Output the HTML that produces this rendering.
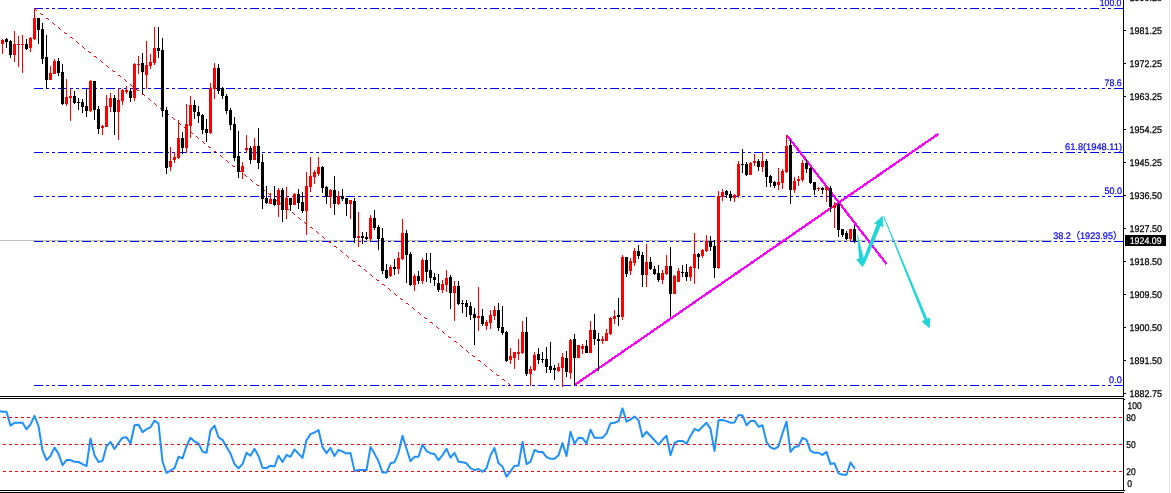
<!DOCTYPE html>
<html><head><meta charset="utf-8"><title>Chart</title>
<style>html,body{margin:0;padding:0;background:#fff;}body{width:1171px;height:493px;overflow:hidden;}svg{display:block;}text{font-family:"Liberation Sans",sans-serif;text-rendering:geometricPrecision;}</style>
</head><body>
<svg width="1171" height="493" viewBox="0 0 1171 493">
<rect x="0" y="0" width="1171" height="493" fill="#fff"/>
<rect x="1169" y="0" width="1" height="493" fill="#e6e6e6"/>
<rect x="0" y="240" width="1052" height="1" fill="#c0c0c0" shape-rendering="crispEdges"/>
<g stroke="#0000ff" stroke-width="1" stroke-dasharray="9 3 3 3 3 3" shape-rendering="crispEdges" fill="none">
<line x1="34" y1="8.5" x2="1123" y2="8.5"/>
<line x1="34" y1="88.5" x2="1123" y2="88.5"/>
<line x1="34" y1="152.5" x2="1123" y2="152.5"/>
<line x1="34" y1="196.5" x2="1123" y2="196.5"/>
<line x1="34" y1="241.5" x2="1123" y2="241.5"/>
<line x1="34" y1="385.5" x2="1123" y2="385.5"/>
</g>
<g fill="#ff0000" shape-rendering="crispEdges"><rect x="34" y="8" width="1" height="1"/><rect x="35" y="9" width="1" height="1"/><rect x="36" y="10" width="1" height="1"/><rect x="40" y="13" width="1" height="1"/><rect x="41" y="14" width="1" height="1"/><rect x="42" y="14" width="1" height="1"/><rect x="46" y="18" width="1" height="1"/><rect x="47" y="18" width="1" height="1"/><rect x="48" y="19" width="1" height="1"/><rect x="52" y="22" width="1" height="1"/><rect x="53" y="23" width="1" height="1"/><rect x="54" y="24" width="1" height="1"/><rect x="58" y="27" width="1" height="1"/><rect x="59" y="28" width="1" height="1"/><rect x="60" y="29" width="1" height="1"/><rect x="64" y="32" width="1" height="1"/><rect x="65" y="33" width="1" height="1"/><rect x="66" y="33" width="1" height="1"/><rect x="70" y="37" width="1" height="1"/><rect x="71" y="37" width="1" height="1"/><rect x="72" y="38" width="1" height="1"/><rect x="76" y="41" width="1" height="1"/><rect x="77" y="42" width="1" height="1"/><rect x="78" y="43" width="1" height="1"/><rect x="82" y="46" width="1" height="1"/><rect x="83" y="47" width="1" height="1"/><rect x="84" y="48" width="1" height="1"/><rect x="88" y="51" width="1" height="1"/><rect x="89" y="52" width="1" height="1"/><rect x="90" y="52" width="1" height="1"/><rect x="94" y="56" width="1" height="1"/><rect x="95" y="56" width="1" height="1"/><rect x="96" y="57" width="1" height="1"/><rect x="100" y="60" width="1" height="1"/><rect x="101" y="61" width="1" height="1"/><rect x="102" y="62" width="1" height="1"/><rect x="106" y="65" width="1" height="1"/><rect x="107" y="66" width="1" height="1"/><rect x="108" y="67" width="1" height="1"/><rect x="112" y="70" width="1" height="1"/><rect x="113" y="71" width="1" height="1"/><rect x="114" y="71" width="1" height="1"/><rect x="118" y="75" width="1" height="1"/><rect x="119" y="75" width="1" height="1"/><rect x="120" y="76" width="1" height="1"/><rect x="124" y="79" width="1" height="1"/><rect x="125" y="80" width="1" height="1"/><rect x="126" y="81" width="1" height="1"/><rect x="130" y="84" width="1" height="1"/><rect x="131" y="85" width="1" height="1"/><rect x="132" y="86" width="1" height="1"/><rect x="136" y="89" width="1" height="1"/><rect x="137" y="90" width="1" height="1"/><rect x="138" y="90" width="1" height="1"/><rect x="142" y="94" width="1" height="1"/><rect x="143" y="94" width="1" height="1"/><rect x="144" y="95" width="1" height="1"/><rect x="148" y="98" width="1" height="1"/><rect x="149" y="99" width="1" height="1"/><rect x="150" y="100" width="1" height="1"/><rect x="154" y="103" width="1" height="1"/><rect x="155" y="104" width="1" height="1"/><rect x="156" y="105" width="1" height="1"/><rect x="160" y="108" width="1" height="1"/><rect x="161" y="109" width="1" height="1"/><rect x="162" y="109" width="1" height="1"/><rect x="166" y="113" width="1" height="1"/><rect x="167" y="113" width="1" height="1"/><rect x="168" y="114" width="1" height="1"/><rect x="172" y="117" width="1" height="1"/><rect x="173" y="118" width="1" height="1"/><rect x="174" y="119" width="1" height="1"/><rect x="178" y="122" width="1" height="1"/><rect x="179" y="123" width="1" height="1"/><rect x="180" y="124" width="1" height="1"/><rect x="184" y="127" width="1" height="1"/><rect x="185" y="128" width="1" height="1"/><rect x="186" y="128" width="1" height="1"/><rect x="190" y="132" width="1" height="1"/><rect x="191" y="132" width="1" height="1"/><rect x="192" y="133" width="1" height="1"/><rect x="196" y="136" width="1" height="1"/><rect x="197" y="137" width="1" height="1"/><rect x="198" y="138" width="1" height="1"/><rect x="202" y="141" width="1" height="1"/><rect x="203" y="142" width="1" height="1"/><rect x="204" y="143" width="1" height="1"/><rect x="208" y="146" width="1" height="1"/><rect x="209" y="147" width="1" height="1"/><rect x="210" y="147" width="1" height="1"/><rect x="214" y="151" width="1" height="1"/><rect x="215" y="151" width="1" height="1"/><rect x="216" y="152" width="1" height="1"/><rect x="220" y="155" width="1" height="1"/><rect x="221" y="156" width="1" height="1"/><rect x="222" y="157" width="1" height="1"/><rect x="226" y="160" width="1" height="1"/><rect x="227" y="161" width="1" height="1"/><rect x="228" y="162" width="1" height="1"/><rect x="232" y="165" width="1" height="1"/><rect x="233" y="166" width="1" height="1"/><rect x="234" y="166" width="1" height="1"/><rect x="238" y="170" width="1" height="1"/><rect x="239" y="170" width="1" height="1"/><rect x="240" y="171" width="1" height="1"/><rect x="244" y="174" width="1" height="1"/><rect x="245" y="175" width="1" height="1"/><rect x="246" y="176" width="1" height="1"/><rect x="250" y="179" width="1" height="1"/><rect x="251" y="180" width="1" height="1"/><rect x="252" y="181" width="1" height="1"/><rect x="256" y="184" width="1" height="1"/><rect x="257" y="185" width="1" height="1"/><rect x="258" y="185" width="1" height="1"/><rect x="262" y="189" width="1" height="1"/><rect x="263" y="189" width="1" height="1"/><rect x="264" y="190" width="1" height="1"/><rect x="268" y="193" width="1" height="1"/><rect x="269" y="194" width="1" height="1"/><rect x="270" y="195" width="1" height="1"/><rect x="274" y="198" width="1" height="1"/><rect x="275" y="199" width="1" height="1"/><rect x="276" y="200" width="1" height="1"/><rect x="280" y="203" width="1" height="1"/><rect x="281" y="204" width="1" height="1"/><rect x="282" y="204" width="1" height="1"/><rect x="286" y="208" width="1" height="1"/><rect x="287" y="208" width="1" height="1"/><rect x="288" y="209" width="1" height="1"/><rect x="292" y="212" width="1" height="1"/><rect x="293" y="213" width="1" height="1"/><rect x="294" y="214" width="1" height="1"/><rect x="298" y="217" width="1" height="1"/><rect x="299" y="218" width="1" height="1"/><rect x="300" y="219" width="1" height="1"/><rect x="304" y="222" width="1" height="1"/><rect x="305" y="223" width="1" height="1"/><rect x="306" y="223" width="1" height="1"/><rect x="310" y="227" width="1" height="1"/><rect x="311" y="227" width="1" height="1"/><rect x="312" y="228" width="1" height="1"/><rect x="316" y="231" width="1" height="1"/><rect x="317" y="232" width="1" height="1"/><rect x="318" y="233" width="1" height="1"/><rect x="322" y="236" width="1" height="1"/><rect x="323" y="237" width="1" height="1"/><rect x="324" y="238" width="1" height="1"/><rect x="328" y="241" width="1" height="1"/><rect x="329" y="242" width="1" height="1"/><rect x="330" y="242" width="1" height="1"/><rect x="334" y="246" width="1" height="1"/><rect x="335" y="246" width="1" height="1"/><rect x="336" y="247" width="1" height="1"/><rect x="340" y="250" width="1" height="1"/><rect x="341" y="251" width="1" height="1"/><rect x="342" y="252" width="1" height="1"/><rect x="346" y="255" width="1" height="1"/><rect x="347" y="256" width="1" height="1"/><rect x="348" y="257" width="1" height="1"/><rect x="352" y="260" width="1" height="1"/><rect x="353" y="261" width="1" height="1"/><rect x="354" y="261" width="1" height="1"/><rect x="358" y="265" width="1" height="1"/><rect x="359" y="265" width="1" height="1"/><rect x="360" y="266" width="1" height="1"/><rect x="364" y="269" width="1" height="1"/><rect x="365" y="270" width="1" height="1"/><rect x="366" y="271" width="1" height="1"/><rect x="370" y="274" width="1" height="1"/><rect x="371" y="275" width="1" height="1"/><rect x="372" y="276" width="1" height="1"/><rect x="376" y="279" width="1" height="1"/><rect x="377" y="280" width="1" height="1"/><rect x="378" y="280" width="1" height="1"/><rect x="382" y="284" width="1" height="1"/><rect x="383" y="284" width="1" height="1"/><rect x="384" y="285" width="1" height="1"/><rect x="388" y="288" width="1" height="1"/><rect x="389" y="289" width="1" height="1"/><rect x="390" y="290" width="1" height="1"/><rect x="394" y="293" width="1" height="1"/><rect x="395" y="294" width="1" height="1"/><rect x="396" y="295" width="1" height="1"/><rect x="400" y="298" width="1" height="1"/><rect x="401" y="299" width="1" height="1"/><rect x="402" y="299" width="1" height="1"/><rect x="406" y="303" width="1" height="1"/><rect x="407" y="303" width="1" height="1"/><rect x="408" y="304" width="1" height="1"/><rect x="412" y="307" width="1" height="1"/><rect x="413" y="308" width="1" height="1"/><rect x="414" y="309" width="1" height="1"/><rect x="418" y="312" width="1" height="1"/><rect x="419" y="313" width="1" height="1"/><rect x="420" y="314" width="1" height="1"/><rect x="424" y="317" width="1" height="1"/><rect x="425" y="318" width="1" height="1"/><rect x="426" y="318" width="1" height="1"/><rect x="430" y="322" width="1" height="1"/><rect x="431" y="322" width="1" height="1"/><rect x="432" y="323" width="1" height="1"/><rect x="436" y="326" width="1" height="1"/><rect x="437" y="327" width="1" height="1"/><rect x="438" y="328" width="1" height="1"/><rect x="442" y="331" width="1" height="1"/><rect x="443" y="332" width="1" height="1"/><rect x="444" y="333" width="1" height="1"/><rect x="448" y="336" width="1" height="1"/><rect x="449" y="337" width="1" height="1"/><rect x="450" y="337" width="1" height="1"/><rect x="454" y="341" width="1" height="1"/><rect x="455" y="341" width="1" height="1"/><rect x="456" y="342" width="1" height="1"/><rect x="460" y="345" width="1" height="1"/><rect x="461" y="346" width="1" height="1"/><rect x="462" y="347" width="1" height="1"/><rect x="466" y="350" width="1" height="1"/><rect x="467" y="351" width="1" height="1"/><rect x="468" y="352" width="1" height="1"/><rect x="472" y="355" width="1" height="1"/><rect x="473" y="356" width="1" height="1"/><rect x="474" y="356" width="1" height="1"/><rect x="478" y="360" width="1" height="1"/><rect x="479" y="360" width="1" height="1"/><rect x="480" y="361" width="1" height="1"/><rect x="484" y="364" width="1" height="1"/><rect x="485" y="365" width="1" height="1"/><rect x="486" y="366" width="1" height="1"/><rect x="490" y="369" width="1" height="1"/><rect x="491" y="370" width="1" height="1"/><rect x="492" y="371" width="1" height="1"/><rect x="496" y="374" width="1" height="1"/><rect x="497" y="375" width="1" height="1"/><rect x="498" y="375" width="1" height="1"/><rect x="502" y="379" width="1" height="1"/><rect x="503" y="379" width="1" height="1"/><rect x="504" y="380" width="1" height="1"/><rect x="508" y="383" width="1" height="1"/><rect x="509" y="384" width="1" height="1"/><rect x="510" y="385" width="1" height="1"/></g>
<g stroke="#ff00ff" stroke-width="2.3" stroke-linecap="butt" fill="none" shape-rendering="crispEdges">
<line x1="574.5" y1="385" x2="938.2" y2="134"/>
<line x1="786.8" y1="135.2" x2="886.5" y2="264"/>
</g>
<g fill="#000" shape-rendering="crispEdges"><rect x="6" y="38" width="1" height="10"/><rect x="5" y="39" width="3" height="3"/><rect x="10" y="40" width="1" height="18"/><rect x="9" y="41" width="3" height="14"/><rect x="26" y="39" width="1" height="11"/><rect x="25" y="44" width="3" height="5"/><rect x="38" y="18" width="1" height="26"/><rect x="37" y="18" width="3" height="12"/><rect x="42" y="23" width="1" height="41"/><rect x="41" y="29" width="3" height="30"/><rect x="46" y="35" width="1" height="54"/><rect x="45" y="57" width="3" height="23"/><rect x="58" y="58" width="1" height="18"/><rect x="57" y="61" width="3" height="12"/><rect x="62" y="64" width="1" height="41"/><rect x="61" y="72" width="3" height="32"/><rect x="74" y="91" width="1" height="13"/><rect x="73" y="96" width="3" height="7"/><rect x="78" y="98" width="1" height="12"/><rect x="77" y="102" width="3" height="1"/><rect x="82" y="99" width="1" height="14"/><rect x="81" y="102" width="3" height="5"/><rect x="86" y="88" width="1" height="29"/><rect x="85" y="106" width="3" height="5"/><rect x="94" y="81" width="1" height="39"/><rect x="93" y="81" width="3" height="29"/><rect x="98" y="106" width="1" height="28"/><rect x="97" y="109" width="3" height="20"/><rect x="114" y="95" width="1" height="40"/><rect x="113" y="98" width="3" height="14"/><rect x="130" y="88" width="1" height="14"/><rect x="129" y="91" width="3" height="7"/><rect x="142" y="53" width="1" height="41"/><rect x="141" y="63" width="3" height="9"/><rect x="158" y="27" width="1" height="31"/><rect x="157" y="48" width="3" height="3"/><rect x="162" y="38" width="1" height="79"/><rect x="161" y="50" width="3" height="61"/><rect x="166" y="107" width="1" height="67"/><rect x="165" y="110" width="3" height="58"/><rect x="182" y="132" width="1" height="22"/><rect x="181" y="138" width="3" height="10"/><rect x="194" y="100" width="1" height="19"/><rect x="193" y="105" width="3" height="7"/><rect x="198" y="106" width="1" height="17"/><rect x="197" y="112" width="3" height="4"/><rect x="202" y="114" width="1" height="20"/><rect x="201" y="115" width="3" height="15"/><rect x="206" y="119" width="1" height="23"/><rect x="205" y="129" width="3" height="4"/><rect x="218" y="64" width="1" height="30"/><rect x="217" y="68" width="3" height="23"/><rect x="222" y="87" width="1" height="12"/><rect x="221" y="88" width="3" height="8"/><rect x="226" y="94" width="1" height="20"/><rect x="225" y="96" width="3" height="15"/><rect x="230" y="108" width="1" height="22"/><rect x="229" y="110" width="3" height="15"/><rect x="234" y="117" width="1" height="44"/><rect x="233" y="124" width="3" height="34"/><rect x="238" y="131" width="1" height="47"/><rect x="237" y="156" width="3" height="16"/><rect x="250" y="146" width="1" height="18"/><rect x="249" y="148" width="3" height="12"/><rect x="258" y="128" width="1" height="41"/><rect x="257" y="146" width="3" height="17"/><rect x="262" y="154" width="1" height="55"/><rect x="261" y="162" width="3" height="37"/><rect x="266" y="186" width="1" height="18"/><rect x="265" y="198" width="3" height="5"/><rect x="274" y="186" width="1" height="20"/><rect x="273" y="199" width="3" height="6"/><rect x="282" y="188" width="1" height="34"/><rect x="281" y="190" width="3" height="20"/><rect x="290" y="198" width="1" height="13"/><rect x="289" y="198" width="3" height="7"/><rect x="298" y="189" width="1" height="20"/><rect x="297" y="194" width="3" height="9"/><rect x="302" y="192" width="1" height="21"/><rect x="301" y="202" width="3" height="9"/><rect x="322" y="166" width="1" height="27"/><rect x="321" y="167" width="3" height="21"/><rect x="326" y="186" width="1" height="18"/><rect x="325" y="187" width="3" height="10"/><rect x="334" y="176" width="1" height="39"/><rect x="333" y="190" width="3" height="14"/><rect x="342" y="189" width="1" height="12"/><rect x="341" y="196" width="3" height="3"/><rect x="346" y="198" width="1" height="18"/><rect x="345" y="198" width="3" height="6"/><rect x="354" y="198" width="1" height="45"/><rect x="353" y="201" width="3" height="37"/><rect x="362" y="232" width="1" height="12"/><rect x="361" y="236" width="3" height="2"/><rect x="366" y="232" width="1" height="8"/><rect x="365" y="237" width="3" height="2"/><rect x="374" y="210" width="1" height="20"/><rect x="373" y="218" width="3" height="10"/><rect x="378" y="225" width="1" height="25"/><rect x="377" y="227" width="3" height="12"/><rect x="382" y="228" width="1" height="46"/><rect x="381" y="238" width="3" height="33"/><rect x="386" y="264" width="1" height="15"/><rect x="385" y="270" width="3" height="8"/><rect x="394" y="259" width="1" height="16"/><rect x="393" y="267" width="3" height="2"/><rect x="406" y="230" width="1" height="53"/><rect x="405" y="233" width="3" height="22"/><rect x="410" y="252" width="1" height="34"/><rect x="409" y="254" width="3" height="31"/><rect x="418" y="271" width="1" height="13"/><rect x="417" y="276" width="3" height="5"/><rect x="426" y="253" width="1" height="29"/><rect x="425" y="260" width="3" height="12"/><rect x="430" y="253" width="1" height="30"/><rect x="429" y="270" width="3" height="8"/><rect x="434" y="273" width="1" height="13"/><rect x="433" y="277" width="3" height="3"/><rect x="438" y="274" width="1" height="18"/><rect x="437" y="283" width="3" height="7"/><rect x="450" y="275" width="1" height="34"/><rect x="449" y="277" width="3" height="16"/><rect x="458" y="281" width="1" height="24"/><rect x="457" y="286" width="3" height="18"/><rect x="462" y="300" width="1" height="13"/><rect x="461" y="303" width="3" height="1"/><rect x="466" y="300" width="1" height="17"/><rect x="465" y="303" width="3" height="4"/><rect x="470" y="302" width="1" height="18"/><rect x="469" y="306" width="3" height="9"/><rect x="474" y="308" width="1" height="37"/><rect x="473" y="314" width="3" height="4"/><rect x="482" y="309" width="1" height="17"/><rect x="481" y="316" width="3" height="8"/><rect x="498" y="303" width="1" height="28"/><rect x="497" y="310" width="3" height="18"/><rect x="502" y="306" width="1" height="29"/><rect x="501" y="327" width="3" height="6"/><rect x="506" y="331" width="1" height="31"/><rect x="505" y="332" width="3" height="29"/><rect x="526" y="317" width="1" height="59"/><rect x="525" y="332" width="3" height="42"/><rect x="538" y="348" width="1" height="16"/><rect x="537" y="354" width="3" height="6"/><rect x="542" y="352" width="1" height="11"/><rect x="541" y="359" width="3" height="1"/><rect x="546" y="347" width="1" height="26"/><rect x="545" y="359" width="3" height="8"/><rect x="550" y="342" width="1" height="31"/><rect x="549" y="366" width="3" height="4"/><rect x="554" y="365" width="1" height="15"/><rect x="553" y="368" width="3" height="2"/><rect x="566" y="351" width="1" height="26"/><rect x="565" y="358" width="3" height="14"/><rect x="574" y="334" width="1" height="51"/><rect x="573" y="339" width="3" height="19"/><rect x="586" y="340" width="1" height="13"/><rect x="585" y="346" width="3" height="7"/><rect x="594" y="314" width="1" height="31"/><rect x="593" y="330" width="3" height="9"/><rect x="598" y="333" width="1" height="38"/><rect x="597" y="339" width="3" height="2"/><rect x="618" y="298" width="1" height="28"/><rect x="617" y="315" width="3" height="2"/><rect x="626" y="257" width="1" height="20"/><rect x="625" y="257" width="3" height="17"/><rect x="638" y="245" width="1" height="14"/><rect x="637" y="251" width="3" height="5"/><rect x="642" y="252" width="1" height="35"/><rect x="641" y="255" width="3" height="20"/><rect x="650" y="257" width="1" height="13"/><rect x="649" y="262" width="3" height="7"/><rect x="654" y="266" width="1" height="9"/><rect x="653" y="269" width="3" height="5"/><rect x="658" y="265" width="1" height="17"/><rect x="657" y="273" width="3" height="7"/><rect x="670" y="247" width="1" height="70"/><rect x="669" y="266" width="3" height="28"/><rect x="682" y="265" width="1" height="12"/><rect x="681" y="272" width="3" height="1"/><rect x="686" y="264" width="1" height="17"/><rect x="685" y="272" width="3" height="5"/><rect x="698" y="253" width="1" height="16"/><rect x="697" y="254" width="3" height="3"/><rect x="710" y="236" width="1" height="15"/><rect x="709" y="241" width="3" height="6"/><rect x="714" y="240" width="1" height="38"/><rect x="713" y="246" width="3" height="22"/><rect x="726" y="190" width="1" height="8"/><rect x="725" y="191" width="3" height="4"/><rect x="730" y="191" width="1" height="10"/><rect x="729" y="194" width="3" height="4"/><rect x="742" y="149" width="1" height="24"/><rect x="741" y="164" width="3" height="1"/><rect x="746" y="162" width="1" height="14"/><rect x="745" y="164" width="3" height="11"/><rect x="758" y="159" width="1" height="12"/><rect x="757" y="161" width="3" height="6"/><rect x="766" y="159" width="1" height="28"/><rect x="765" y="161" width="3" height="16"/><rect x="770" y="175" width="1" height="12"/><rect x="769" y="176" width="3" height="7"/><rect x="774" y="181" width="1" height="7"/><rect x="773" y="182" width="3" height="4"/><rect x="790" y="140" width="1" height="64"/><rect x="789" y="145" width="3" height="45"/><rect x="806" y="159" width="1" height="14"/><rect x="805" y="163" width="3" height="6"/><rect x="810" y="167" width="1" height="17"/><rect x="809" y="168" width="3" height="15"/><rect x="814" y="182" width="1" height="13"/><rect x="813" y="182" width="3" height="8"/><rect x="822" y="187" width="1" height="7"/><rect x="821" y="188" width="3" height="2"/><rect x="830" y="186" width="1" height="26"/><rect x="829" y="188" width="3" height="19"/><rect x="838" y="203" width="1" height="34"/><rect x="837" y="204" width="3" height="26"/><rect x="842" y="229" width="1" height="8"/><rect x="841" y="229" width="3" height="6"/><rect x="846" y="231" width="1" height="9"/><rect x="845" y="233" width="3" height="6"/><rect x="854" y="225" width="1" height="18"/><rect x="853" y="229" width="3" height="12"/></g>
<g fill="#ff0000" shape-rendering="crispEdges"><rect x="2" y="39" width="1" height="15"/><rect x="1" y="40" width="3" height="4"/><rect x="14" y="31" width="1" height="31"/><rect x="13" y="44" width="3" height="11"/><rect x="18" y="36" width="1" height="31"/><rect x="17" y="44" width="3" height="1"/><rect x="22" y="35" width="1" height="38"/><rect x="21" y="44" width="3" height="1"/><rect x="30" y="37" width="1" height="15"/><rect x="29" y="38" width="3" height="10"/><rect x="34" y="8" width="1" height="32"/><rect x="33" y="18" width="3" height="21"/><rect x="50" y="66" width="1" height="14"/><rect x="49" y="73" width="3" height="7"/><rect x="54" y="59" width="1" height="15"/><rect x="53" y="61" width="3" height="13"/><rect x="66" y="79" width="1" height="27"/><rect x="65" y="97" width="3" height="7"/><rect x="70" y="89" width="1" height="32"/><rect x="69" y="96" width="3" height="2"/><rect x="90" y="80" width="1" height="32"/><rect x="89" y="81" width="3" height="30"/><rect x="102" y="125" width="1" height="10"/><rect x="101" y="126" width="3" height="2"/><rect x="106" y="95" width="1" height="32"/><rect x="105" y="106" width="3" height="21"/><rect x="110" y="93" width="1" height="19"/><rect x="109" y="98" width="3" height="9"/><rect x="118" y="88" width="1" height="52"/><rect x="117" y="100" width="3" height="12"/><rect x="122" y="89" width="1" height="16"/><rect x="121" y="90" width="3" height="11"/><rect x="126" y="86" width="1" height="8"/><rect x="125" y="90" width="3" height="2"/><rect x="134" y="63" width="1" height="38"/><rect x="133" y="64" width="3" height="34"/><rect x="138" y="56" width="1" height="18"/><rect x="137" y="64" width="3" height="1"/><rect x="146" y="41" width="1" height="48"/><rect x="145" y="65" width="3" height="10"/><rect x="150" y="54" width="1" height="15"/><rect x="149" y="62" width="3" height="4"/><rect x="154" y="27" width="1" height="38"/><rect x="153" y="48" width="3" height="15"/><rect x="170" y="147" width="1" height="24"/><rect x="169" y="161" width="3" height="6"/><rect x="174" y="152" width="1" height="11"/><rect x="173" y="157" width="3" height="3"/><rect x="178" y="120" width="1" height="39"/><rect x="177" y="138" width="3" height="20"/><rect x="186" y="104" width="1" height="49"/><rect x="185" y="124" width="3" height="24"/><rect x="190" y="96" width="1" height="42"/><rect x="189" y="105" width="3" height="21"/><rect x="210" y="83" width="1" height="51"/><rect x="209" y="88" width="3" height="45"/><rect x="214" y="63" width="1" height="36"/><rect x="213" y="68" width="3" height="21"/><rect x="242" y="162" width="1" height="17"/><rect x="241" y="166" width="3" height="6"/><rect x="246" y="135" width="1" height="18"/><rect x="245" y="148" width="3" height="2"/><rect x="254" y="138" width="1" height="22"/><rect x="253" y="146" width="3" height="14"/><rect x="270" y="193" width="1" height="11"/><rect x="269" y="199" width="3" height="5"/><rect x="278" y="188" width="1" height="29"/><rect x="277" y="190" width="3" height="15"/><rect x="286" y="187" width="1" height="32"/><rect x="285" y="198" width="3" height="12"/><rect x="294" y="193" width="1" height="12"/><rect x="293" y="194" width="3" height="11"/><rect x="306" y="172" width="1" height="63"/><rect x="305" y="186" width="3" height="25"/><rect x="310" y="157" width="1" height="35"/><rect x="309" y="176" width="3" height="11"/><rect x="314" y="170" width="1" height="14"/><rect x="313" y="172" width="3" height="5"/><rect x="318" y="157" width="1" height="19"/><rect x="317" y="167" width="3" height="7"/><rect x="330" y="189" width="1" height="19"/><rect x="329" y="190" width="3" height="7"/><rect x="338" y="191" width="1" height="14"/><rect x="337" y="196" width="3" height="8"/><rect x="350" y="200" width="1" height="19"/><rect x="349" y="200" width="3" height="4"/><rect x="358" y="212" width="1" height="35"/><rect x="357" y="236" width="3" height="2"/><rect x="370" y="215" width="1" height="26"/><rect x="369" y="218" width="3" height="21"/><rect x="390" y="265" width="1" height="12"/><rect x="389" y="267" width="3" height="9"/><rect x="398" y="252" width="1" height="22"/><rect x="397" y="258" width="3" height="11"/><rect x="402" y="219" width="1" height="41"/><rect x="401" y="233" width="3" height="26"/><rect x="414" y="274" width="1" height="17"/><rect x="413" y="276" width="3" height="9"/><rect x="422" y="258" width="1" height="26"/><rect x="421" y="260" width="3" height="21"/><rect x="442" y="280" width="1" height="13"/><rect x="441" y="284" width="3" height="6"/><rect x="446" y="270" width="1" height="22"/><rect x="445" y="278" width="3" height="7"/><rect x="454" y="281" width="1" height="40"/><rect x="453" y="286" width="3" height="7"/><rect x="478" y="287" width="1" height="44"/><rect x="477" y="316" width="3" height="2"/><rect x="486" y="320" width="1" height="10"/><rect x="485" y="322" width="3" height="4"/><rect x="490" y="310" width="1" height="19"/><rect x="489" y="315" width="3" height="8"/><rect x="494" y="306" width="1" height="14"/><rect x="493" y="310" width="3" height="6"/><rect x="510" y="348" width="1" height="16"/><rect x="509" y="356" width="3" height="4"/><rect x="514" y="352" width="1" height="17"/><rect x="513" y="352" width="3" height="6"/><rect x="518" y="339" width="1" height="21"/><rect x="517" y="352" width="3" height="2"/><rect x="522" y="321" width="1" height="33"/><rect x="521" y="332" width="3" height="21"/><rect x="530" y="366" width="1" height="20"/><rect x="529" y="369" width="3" height="5"/><rect x="534" y="352" width="1" height="19"/><rect x="533" y="355" width="3" height="15"/><rect x="558" y="363" width="1" height="9"/><rect x="557" y="367" width="3" height="4"/><rect x="562" y="353" width="1" height="34"/><rect x="561" y="357" width="3" height="11"/><rect x="570" y="339" width="1" height="40"/><rect x="569" y="340" width="3" height="33"/><rect x="578" y="345" width="1" height="13"/><rect x="577" y="345" width="3" height="13"/><rect x="582" y="344" width="1" height="10"/><rect x="581" y="346" width="3" height="3"/><rect x="590" y="321" width="1" height="32"/><rect x="589" y="330" width="3" height="23"/><rect x="602" y="336" width="1" height="8"/><rect x="601" y="339" width="3" height="2"/><rect x="606" y="329" width="1" height="12"/><rect x="605" y="333" width="3" height="8"/><rect x="610" y="317" width="1" height="18"/><rect x="609" y="318" width="3" height="16"/><rect x="614" y="310" width="1" height="14"/><rect x="613" y="316" width="3" height="3"/><rect x="622" y="255" width="1" height="65"/><rect x="621" y="257" width="3" height="60"/><rect x="630" y="258" width="1" height="17"/><rect x="629" y="261" width="3" height="10"/><rect x="634" y="248" width="1" height="18"/><rect x="633" y="251" width="3" height="12"/><rect x="646" y="244" width="1" height="43"/><rect x="645" y="262" width="3" height="13"/><rect x="662" y="270" width="1" height="14"/><rect x="661" y="273" width="3" height="7"/><rect x="666" y="255" width="1" height="20"/><rect x="665" y="266" width="3" height="8"/><rect x="674" y="275" width="1" height="19"/><rect x="673" y="276" width="3" height="18"/><rect x="678" y="268" width="1" height="14"/><rect x="677" y="271" width="3" height="11"/><rect x="690" y="266" width="1" height="15"/><rect x="689" y="267" width="3" height="10"/><rect x="694" y="233" width="1" height="51"/><rect x="693" y="254" width="3" height="14"/><rect x="702" y="249" width="1" height="9"/><rect x="701" y="250" width="3" height="6"/><rect x="706" y="235" width="1" height="17"/><rect x="705" y="241" width="3" height="10"/><rect x="718" y="191" width="1" height="78"/><rect x="717" y="196" width="3" height="72"/><rect x="722" y="189" width="1" height="12"/><rect x="721" y="192" width="3" height="5"/><rect x="734" y="194" width="1" height="8"/><rect x="733" y="195" width="3" height="3"/><rect x="738" y="161" width="1" height="37"/><rect x="737" y="164" width="3" height="32"/><rect x="750" y="162" width="1" height="13"/><rect x="749" y="163" width="3" height="12"/><rect x="754" y="154" width="1" height="12"/><rect x="753" y="161" width="3" height="2"/><rect x="762" y="153" width="1" height="19"/><rect x="761" y="161" width="3" height="6"/><rect x="778" y="168" width="1" height="22"/><rect x="777" y="182" width="3" height="3"/><rect x="782" y="169" width="1" height="20"/><rect x="781" y="171" width="3" height="12"/><rect x="786" y="135" width="1" height="38"/><rect x="785" y="146" width="3" height="26"/><rect x="794" y="177" width="1" height="16"/><rect x="793" y="181" width="3" height="9"/><rect x="798" y="176" width="1" height="10"/><rect x="797" y="179" width="3" height="2"/><rect x="802" y="160" width="1" height="22"/><rect x="801" y="163" width="3" height="17"/><rect x="818" y="187" width="1" height="4"/><rect x="817" y="188" width="3" height="1"/><rect x="826" y="187" width="1" height="15"/><rect x="825" y="187" width="3" height="3"/><rect x="834" y="202" width="1" height="26"/><rect x="833" y="205" width="3" height="3"/><rect x="850" y="229" width="1" height="12"/><rect x="849" y="229" width="3" height="10"/></g>
<g fill="#20d6d8">
<polygon points="857.2,234.8 859.1,258.7 855.9,259.2 862.8,267.2 866.8,257.4 863.6,258.0 857.8,234.8"/>
<polygon points="864.4,264.6 880.6,226.2 883.3,227.3 882.6,215.7 874.0,223.5 876.7,224.6 861.6,263.4"/>
<polygon points="883.1,216.2 924.5,319.9 921.5,321.2 929.7,328.6 930.3,317.5 927.3,318.8 883.9,215.8"/>
</g>
<g fill="#000" shape-rendering="crispEdges">
<rect x="1123" y="0" width="1" height="397"/>
<rect x="0" y="396" width="1124" height="1"/>
<rect x="0" y="398" width="1124" height="1"/>
<rect x="1123" y="398" width="1" height="93"/>
<rect x="0" y="490" width="1125" height="1"/>
<rect x="0" y="492" width="1124" height="1"/>
<rect x="1124" y="30" width="2" height="1"/>
<rect x="1124" y="63" width="2" height="1"/>
<rect x="1124" y="96" width="2" height="1"/>
<rect x="1124" y="129" width="2" height="1"/>
<rect x="1124" y="162" width="2" height="1"/>
<rect x="1124" y="195" width="2" height="1"/>
<rect x="1124" y="228" width="2" height="1"/>
<rect x="1124" y="261" width="2" height="1"/>
<rect x="1124" y="294" width="2" height="1"/>
<rect x="1124" y="327" width="2" height="1"/>
<rect x="1124" y="360" width="2" height="1"/>
<rect x="1124" y="393" width="2" height="1"/>
<rect x="1124" y="399" width="1" height="1"/>
</g>
<g stroke="#ff0000" stroke-width="1" stroke-dasharray="3 3" shape-rendering="crispEdges">
<line x1="3" y1="417.5" x2="1123" y2="417.5"/>
<line x1="3" y1="444.5" x2="1123" y2="444.5"/>
<line x1="3" y1="471.5" x2="1123" y2="471.5"/>
</g>
<polyline points="0,411.2 2.5,411.7 6.5,411.7 10.5,425.6 14.5,422.7 18.5,422.7 22.5,422.7 26.5,429.2 30.5,424.3 34.5,415.9 38.5,426.0 42.5,450.3 46.5,460.1 50.5,456.0 54.5,447.6 58.5,453.6 62.5,465.2 66.5,460.1 70.5,460.1 74.5,461.7 78.5,462.0 82.5,464.1 86.5,466.1 90.5,438.6 94.5,455.2 98.5,462.0 102.5,460.9 106.5,446.3 110.5,441.9 114.5,449.0 118.5,443.0 122.5,437.7 126.5,437.3 130.5,443.5 134.5,425.2 138.5,424.7 142.5,432.1 146.5,429.2 150.5,427.3 154.5,420.6 158.5,423.5 162.5,461.7 166.5,473.0 170.5,470.6 174.5,468.2 178.5,456.8 182.5,458.4 186.5,446.3 190.5,437.8 194.5,441.4 198.5,443.5 202.5,451.6 206.5,452.8 210.5,430.5 214.5,425.6 218.5,437.3 222.5,439.8 226.5,447.1 230.5,453.6 234.5,464.1 238.5,468.2 242.5,464.1 246.5,452.8 250.5,455.7 254.5,448.7 258.5,456.0 262.5,467.8 266.5,468.2 270.5,465.7 274.5,466.5 278.5,455.7 282.5,462.0 286.5,454.9 290.5,456.8 294.5,449.5 298.5,453.6 302.5,457.9 306.5,440.3 310.5,434.1 314.5,432.5 318.5,430.0 322.5,447.1 326.5,453.1 330.5,447.9 334.5,456.0 338.5,449.8 342.5,451.6 346.5,453.6 350.5,453.1 354.5,470.9 358.5,470.1 362.5,470.1 366.5,470.1 370.5,447.1 374.5,453.6 378.5,461.4 382.5,472.6 386.5,472.6 390.5,463.3 394.5,462.2 398.5,452.8 402.5,435.7 406.5,448.7 410.5,461.2 414.5,456.8 418.5,456.8 422.5,444.6 426.5,451.1 430.5,453.2 434.5,454.0 438.5,460.1 442.5,455.2 446.5,448.7 450.5,457.6 454.5,452.8 458.5,461.7 462.5,462.2 466.5,463.3 470.5,468.2 474.5,470.1 478.5,469.0 482.5,471.7 486.5,468.2 490.5,455.2 494.5,447.9 498.5,463.3 502.5,466.5 506.5,476.6 510.5,471.4 514.5,465.7 518.5,465.7 522.5,441.9 526.5,464.1 530.5,461.7 534.5,450.0 538.5,451.9 542.5,451.9 546.5,457.1 550.5,458.8 554.5,458.8 558.5,455.2 562.5,443.0 566.5,456.0 570.5,431.7 574.5,443.5 578.5,437.8 582.5,438.1 586.5,443.5 590.5,429.7 594.5,437.8 598.5,437.8 602.5,437.8 606.5,433.3 610.5,423.2 614.5,422.7 618.5,421.1 622.5,408.4 626.5,421.6 630.5,419.5 634.5,416.6 638.5,420.3 642.5,437.0 646.5,431.7 650.5,436.0 654.5,440.3 658.5,444.6 662.5,439.8 666.5,435.7 670.5,455.2 674.5,443.0 678.5,440.9 682.5,440.9 686.5,443.8 690.5,436.0 694.5,428.9 698.5,430.8 702.5,426.8 706.5,422.7 710.5,428.9 714.5,451.1 718.5,420.3 722.5,420.0 726.5,421.1 730.5,422.7 734.5,422.4 738.5,414.9 742.5,415.4 746.5,425.2 750.5,421.1 754.5,420.8 758.5,426.8 762.5,425.2 766.5,441.9 770.5,447.4 774.5,449.0 778.5,446.3 782.5,433.3 786.5,421.6 790.5,451.9 794.5,447.1 798.5,446.3 802.5,437.8 806.5,439.8 810.5,450.8 814.5,452.8 818.5,452.8 822.5,454.9 826.5,451.9 830.5,464.1 834.5,463.3 838.5,473.4 842.5,474.7 846.5,474.7 850.5,462.5 854.5,468.2" fill="none" stroke="#1e90ff" stroke-width="2" stroke-linejoin="round" stroke-linecap="round"/>
<g font-size="9.7px" fill="#000" stroke="#000" stroke-width="0.25">
<text x="1129.5" y="1.2" textLength="32.4" lengthAdjust="spacingAndGlyphs">1990.25</text>
<text x="1129.5" y="33.9" textLength="32.4" lengthAdjust="spacingAndGlyphs">1981.25</text>
<text x="1129.5" y="66.9" textLength="32.4" lengthAdjust="spacingAndGlyphs">1972.25</text>
<text x="1129.5" y="99.9" textLength="32.4" lengthAdjust="spacingAndGlyphs">1963.25</text>
<text x="1129.5" y="132.9" textLength="32.4" lengthAdjust="spacingAndGlyphs">1954.25</text>
<text x="1129.5" y="165.9" textLength="32.4" lengthAdjust="spacingAndGlyphs">1945.25</text>
<text x="1129.5" y="198.9" textLength="32.4" lengthAdjust="spacingAndGlyphs">1936.50</text>
<text x="1129.5" y="231.9" textLength="32.4" lengthAdjust="spacingAndGlyphs">1927.50</text>
<text x="1129.5" y="264.9" textLength="32.4" lengthAdjust="spacingAndGlyphs">1918.50</text>
<text x="1129.5" y="297.9" textLength="32.4" lengthAdjust="spacingAndGlyphs">1909.50</text>
<text x="1129.5" y="330.9" textLength="32.4" lengthAdjust="spacingAndGlyphs">1900.50</text>
<text x="1129.5" y="363.9" textLength="32.4" lengthAdjust="spacingAndGlyphs">1891.50</text>
<text x="1129.5" y="396.9" textLength="32.4" lengthAdjust="spacingAndGlyphs">1882.75</text>
<text x="1127.6" y="408.9" textLength="14.2" lengthAdjust="spacingAndGlyphs">100</text>
<text x="1126.2" y="420.9" textLength="9.4" lengthAdjust="spacingAndGlyphs">80</text>
<text x="1126.2" y="447.9" textLength="9.4" lengthAdjust="spacingAndGlyphs">50</text>
<text x="1126.2" y="474.9" textLength="9.4" lengthAdjust="spacingAndGlyphs">20</text>
<text x="1127.2" y="487.1" textLength="4.8" lengthAdjust="spacingAndGlyphs">0</text>
</g>
<rect x="1125" y="235" width="41" height="11" fill="#000" shape-rendering="crispEdges"/>
<text x="1129.7" y="244.2" font-size="9.7px" fill="#fff" stroke="#fff" stroke-width="0.15" textLength="32" lengthAdjust="spacingAndGlyphs">1924.09</text>
<g font-size="9.5px" fill="#0000ff" stroke="#0000ff" stroke-width="0.2">
<text x="1099.8" y="5.6" textLength="21.6" lengthAdjust="spacingAndGlyphs">100.0</text>
<text x="1104.6" y="85.6" textLength="17.1" lengthAdjust="spacingAndGlyphs">78.6</text>
<text x="1065" y="149.6" textLength="57" lengthAdjust="spacingAndGlyphs">61.8(1948.11)</text>
<text x="1104.6" y="193.6" textLength="17.5" lengthAdjust="spacingAndGlyphs">50.0</text>
<text x="1053.2" y="238.6" textLength="68.9" lengthAdjust="spacingAndGlyphs" style="font-family:'Liberation Sans','Noto Sans CJK SC',sans-serif">38.2（1923.95）</text>
<text x="1109.1" y="382.6" textLength="12.6" lengthAdjust="spacingAndGlyphs">0.0</text>
</g>
</svg></body></html>
